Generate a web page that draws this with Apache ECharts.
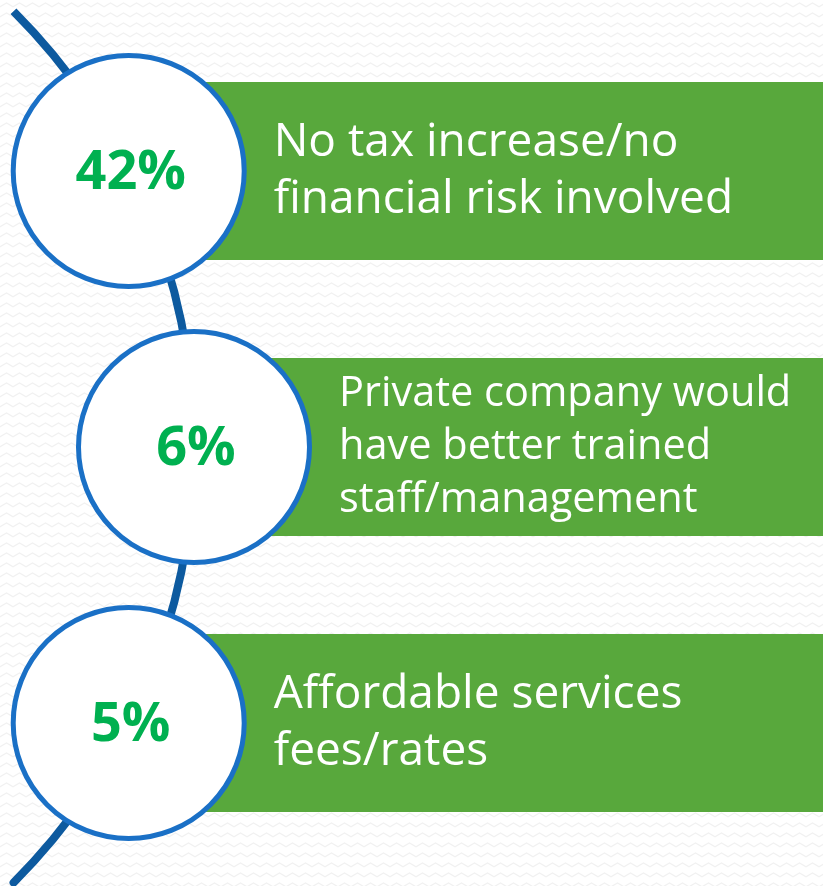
<!DOCTYPE html>
<html>
<head>
<meta charset="utf-8">
<script src="https://cdn.jsdelivr.net/npm/echarts@6/dist/echarts.min.js"></script>
<style>
  html, body { margin: 0; padding: 0; background: #ffffff; }
  #chart { width: 823px; height: 886px; }
</style>
</head>
<body>
<div id="chart"></div>
<script>
// ---- data ----
const categories = [
  'No tax increase/no\nfinancial risk involved',
  'Private company would\nhave better trained\nstaff/management',
  'Affordable services\nfees/rates'
];
const percents = [42, 6, 5];

// ---- layout / style constants ----
const ARC_CX = -422;      // arc centre x (px, relative to canvas)
const ARC_R = 616;        // arc radius (px)
const CIRCLE_R = 115.5;
const TEXT_OFFSET = 145;  // label left edge offset from circle centre
const RECT_FRACTION = 178 / 276;
const GREEN = '#58a83c';
const BLUE_RING = '#1a70c6';
const BLUE_ARC = '#0d5a9f';
const PCT_GREEN = '#00b050';
const FONT = '"Open Sans", "Noto Sans", sans-serif';

// subtle zig-zag background pattern
const pat = document.createElement('canvas');
pat.width = 13; pat.height = 10;
(function () {
  const c = pat.getContext('2d');
  c.fillStyle = '#ffffff';
  c.fillRect(0, 0, 13, 10);
  c.strokeStyle = '#f1f1f1';
  c.lineWidth = 1.3;
  c.beginPath();
  c.moveTo(-0.5, 7); c.lineTo(6.5, 3); c.lineTo(13.5, 7);
  c.stroke();
})();

const chart = echarts.init(document.getElementById('chart'), null, { renderer: 'canvas' });

function circleX(yc, arcCy) {
  const dy = yc - arcCy;
  return ARC_CX + Math.sqrt(ARC_R * ARC_R - dy * dy);
}

const option = {
  animation: false,
  backgroundColor: { image: pat, repeat: 'repeat' },
  grid: { left: 0, right: 0, top: 33, bottom: 25, containLabel: false },
  xAxis: { type: 'value', min: 0, max: 823, show: false },
  yAxis: { type: 'category', data: categories, inverse: true, show: false },
  series: [
    {
      type: 'custom',
      z: 1,
      silent: true,
      data: [[0, 0]],
      renderItem: function (params, api) {
        const cs = params.coordSys;
        const arcCy = cs.y + cs.height / 2;
        return {
          type: 'arc',
          shape: {
            cx: ARC_CX, cy: arcCy, r: ARC_R,
            startAngle: -Math.PI / 4, endAngle: Math.PI / 4, clockwise: true
          },
          style: { stroke: BLUE_ARC, lineWidth: 8, fill: null, lineCap: 'round' }
        };
      }
    },
    {
      type: 'custom',
      z: 2,
      silent: true,
      data: percents.map((p, i) => [p, i]),
      encode: { x: 0, y: 1 },
      renderItem: function (params, api) {
        const cs = params.coordSys;
        const arcCy = cs.y + cs.height / 2;
        const idx = api.value(1);
        const yc = api.coord([0, idx])[1];
        const band = api.size([0, 1])[1];
        const rectH = band * RECT_FRACTION;
        const cx = circleX(yc, arcCy);
        const label = categories[idx];
        const nLines = label.split('\n').length;
        const fs = nLines > 2 ? 41.5 : 46;
        const lh = nLines > 2 ? 53 : 57;
        return {
          type: 'group',
          children: [
            {
              type: 'rect',
              shape: { x: cx, y: yc - rectH / 2, width: cs.x + cs.width - cx, height: rectH },
              style: { fill: GREEN }
            },
            {
              type: 'circle',
              shape: { cx: cx, cy: yc, r: CIRCLE_R },
              style: { fill: '#ffffff', stroke: BLUE_RING, lineWidth: 5 }
            },
            {
              type: 'text',
              x: cx + 2,
              y: yc + 3,
              style: {
                text: api.value(0) + '%',
                fill: PCT_GREEN,
                font: 'bold 54px ' + FONT,
                align: 'center',
                verticalAlign: 'middle'
              }
            },
            {
              type: 'text',
              x: cx + TEXT_OFFSET,
              y: yc,
              style: {
                text: label,
                fill: '#ffffff',
                font: fs + 'px ' + FONT,
                lineHeight: lh,
                align: 'left',
                verticalAlign: 'middle'
              }
            }
          ]
        };
      }
    }
  ]
};
chart.setOption(option);
</script>
</body>
</html>
